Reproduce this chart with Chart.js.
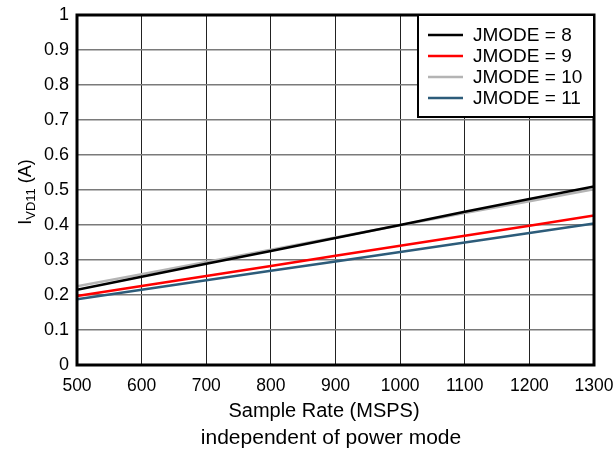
<!DOCTYPE html>
<html lang="en">
<head>
    <meta charset="UTF-8">
    <title>IVD11 vs Sample Rate</title>
    <script src="https://cdn.jsdelivr.net/npm/chart.js"></script>
    <style>
        html, body { margin: 0; padding: 0; background: #fff; }
    </style>
</head>
<body>
<div style="width: 613px; height: 452px;">
    <canvas id="ivd-chart"></canvas>
</div>

<script>
    const sampleRates = [500, 600, 700, 800, 900, 1000, 1100, 1200, 1300];
    const jmode8 = [0.215, 0.252, 0.289, 0.326, 0.363, 0.400, 0.438, 0.474, 0.510];
    const jmode9 = [0.197, 0.226, 0.254, 0.283, 0.312, 0.341, 0.369, 0.398, 0.427];
    const jmode10 = [0.225, 0.259, 0.294, 0.329, 0.364, 0.399, 0.434, 0.468, 0.502];
    const jmode11 = [0.188, 0.215, 0.242, 0.269, 0.296, 0.323, 0.350, 0.377, 0.404];
    const seriesLabels = ['JMODE = 8', 'JMODE = 9', 'JMODE = 10', 'JMODE = 11'];
    const seriesColors = ['#000000', '#ff0000', '#b4b4b4', '#2d5c7a'];

    const FONT = '"Liberation Sans", Arial, Helvetica, sans-serif';

    function toPoints(ys) {
        return sampleRates.map((x, i) => ({x: x, y: ys[i]}));
    }

    const allSeries = [jmode8, jmode9, jmode10, jmode11];
    const datasets = allSeries.map((ys, i) => ({
        label: seriesLabels[i],
        data: toPoints(ys),
        borderColor: seriesColors[i],
        borderWidth: 2.5,
        pointRadius: 0,
        fill: false,
        tension: 0
    }));

    // extra text, legend and frame
    const decorations = {
        id: 'decorations',
        afterDraw(chart) {
            const ctx = chart.ctx;
            const a = chart.chartArea;
            ctx.save();

            // frame
            ctx.strokeStyle = '#000';
            ctx.lineWidth = 3;
            ctx.strokeRect(a.left, a.top, a.right - a.left, a.bottom - a.top);

            // legend box
            const lx = 418, ly = a.top, lw = a.right - lx, lh = 102;
            ctx.fillStyle = '#fff';
            ctx.fillRect(lx, ly, lw, lh);
            ctx.lineWidth = 2;
            ctx.strokeRect(lx, ly, lw, lh);
            ctx.font = '19px ' + FONT;
            ctx.textBaseline = 'middle';
            ctx.textAlign = 'left';
            chart.data.datasets.forEach((ds, i) => {
                const y = 35 + i * 21;
                ctx.strokeStyle = ds.borderColor;
                ctx.lineWidth = 2.5;
                ctx.beginPath();
                ctx.moveTo(428, y);
                ctx.lineTo(463, y);
                ctx.stroke();
                ctx.fillStyle = '#000';
                ctx.fillText(ds.label, 473, y + 1);
            });

            // y title with subscript
            ctx.save();
            ctx.translate(31, 192);
            ctx.rotate(-Math.PI / 2);
            ctx.fillStyle = '#000';
            ctx.textBaseline = 'alphabetic';
            const mainFont = '18px ' + FONT;
            const subFont = '13px ' + FONT;
            ctx.font = mainFont;
            const wI = ctx.measureText('I').width;
            const wRest = ctx.measureText(' (A)').width;
            ctx.font = subFont;
            const wSub = ctx.measureText('VD11').width;
            let x0 = -(wI + wSub + wRest) / 2;
            ctx.font = mainFont;
            ctx.fillText('I', x0, 0);
            ctx.font = subFont;
            ctx.fillText('VD11', x0 + wI, 4);
            ctx.font = mainFont;
            ctx.fillText(' (A)', x0 + wI + wSub, 0);
            ctx.restore();

            // x title and caption
            ctx.fillStyle = '#000';
            ctx.textAlign = 'center';
            ctx.textBaseline = 'alphabetic';
            ctx.font = '20px ' + FONT;
            ctx.fillText('Sample Rate (MSPS)', 324, 417);
            ctx.font = '21px ' + FONT;
            ctx.fillText('independent of power mode', 331, 444);

            ctx.restore();
        }
    };

    let ctx = document.getElementById('ivd-chart').getContext('2d');
    let chart = new Chart(ctx, {
        type: 'line',
        data: {datasets: datasets},
        options: {
            responsive: true,
            maintainAspectRatio: false,
            animation: false,
            layout: {
                padding: {left: 0, top: 15, right: 19, bottom: 0}
            },
            plugins: {
                legend: {display: false},
                tooltip: {enabled: false}
            },
            scales: {
                x: {
                    type: 'linear',
                    min: 500,
                    max: 1300,
                    afterFit: (scale) => { scale.height = 87; scale.paddingRight = 0; scale.paddingLeft = 0; },
                    ticks: {
                        stepSize: 100,
                        color: '#000',
                        padding: 11,
                        maxRotation: 0,
                        autoSkip: false,
                        font: {family: FONT, size: 17.5},
                        callback: (v) => String(v)
                    },
                    grid: {
                        color: '#222',
                        lineWidth: 1,
                        drawTicks: false
                    },
                    border: {display: false}
                },
                y: {
                    min: 0,
                    max: 1,
                    afterFit: (scale) => { scale.width = 77; scale.paddingTop = 0; scale.paddingBottom = 0; },
                    ticks: {
                        stepSize: 0.1,
                        color: '#000',
                        padding: 8,
                        font: {family: FONT, size: 18},
                        callback: (v) => String(Math.round(v * 10) / 10)
                    },
                    grid: {
                        color: '#7a7a7a',
                        lineWidth: 1.5,
                        drawTicks: false
                    },
                    border: {display: false}
                }
            }
        },
        plugins: [decorations]
    });
</script>
</body>
</html>
